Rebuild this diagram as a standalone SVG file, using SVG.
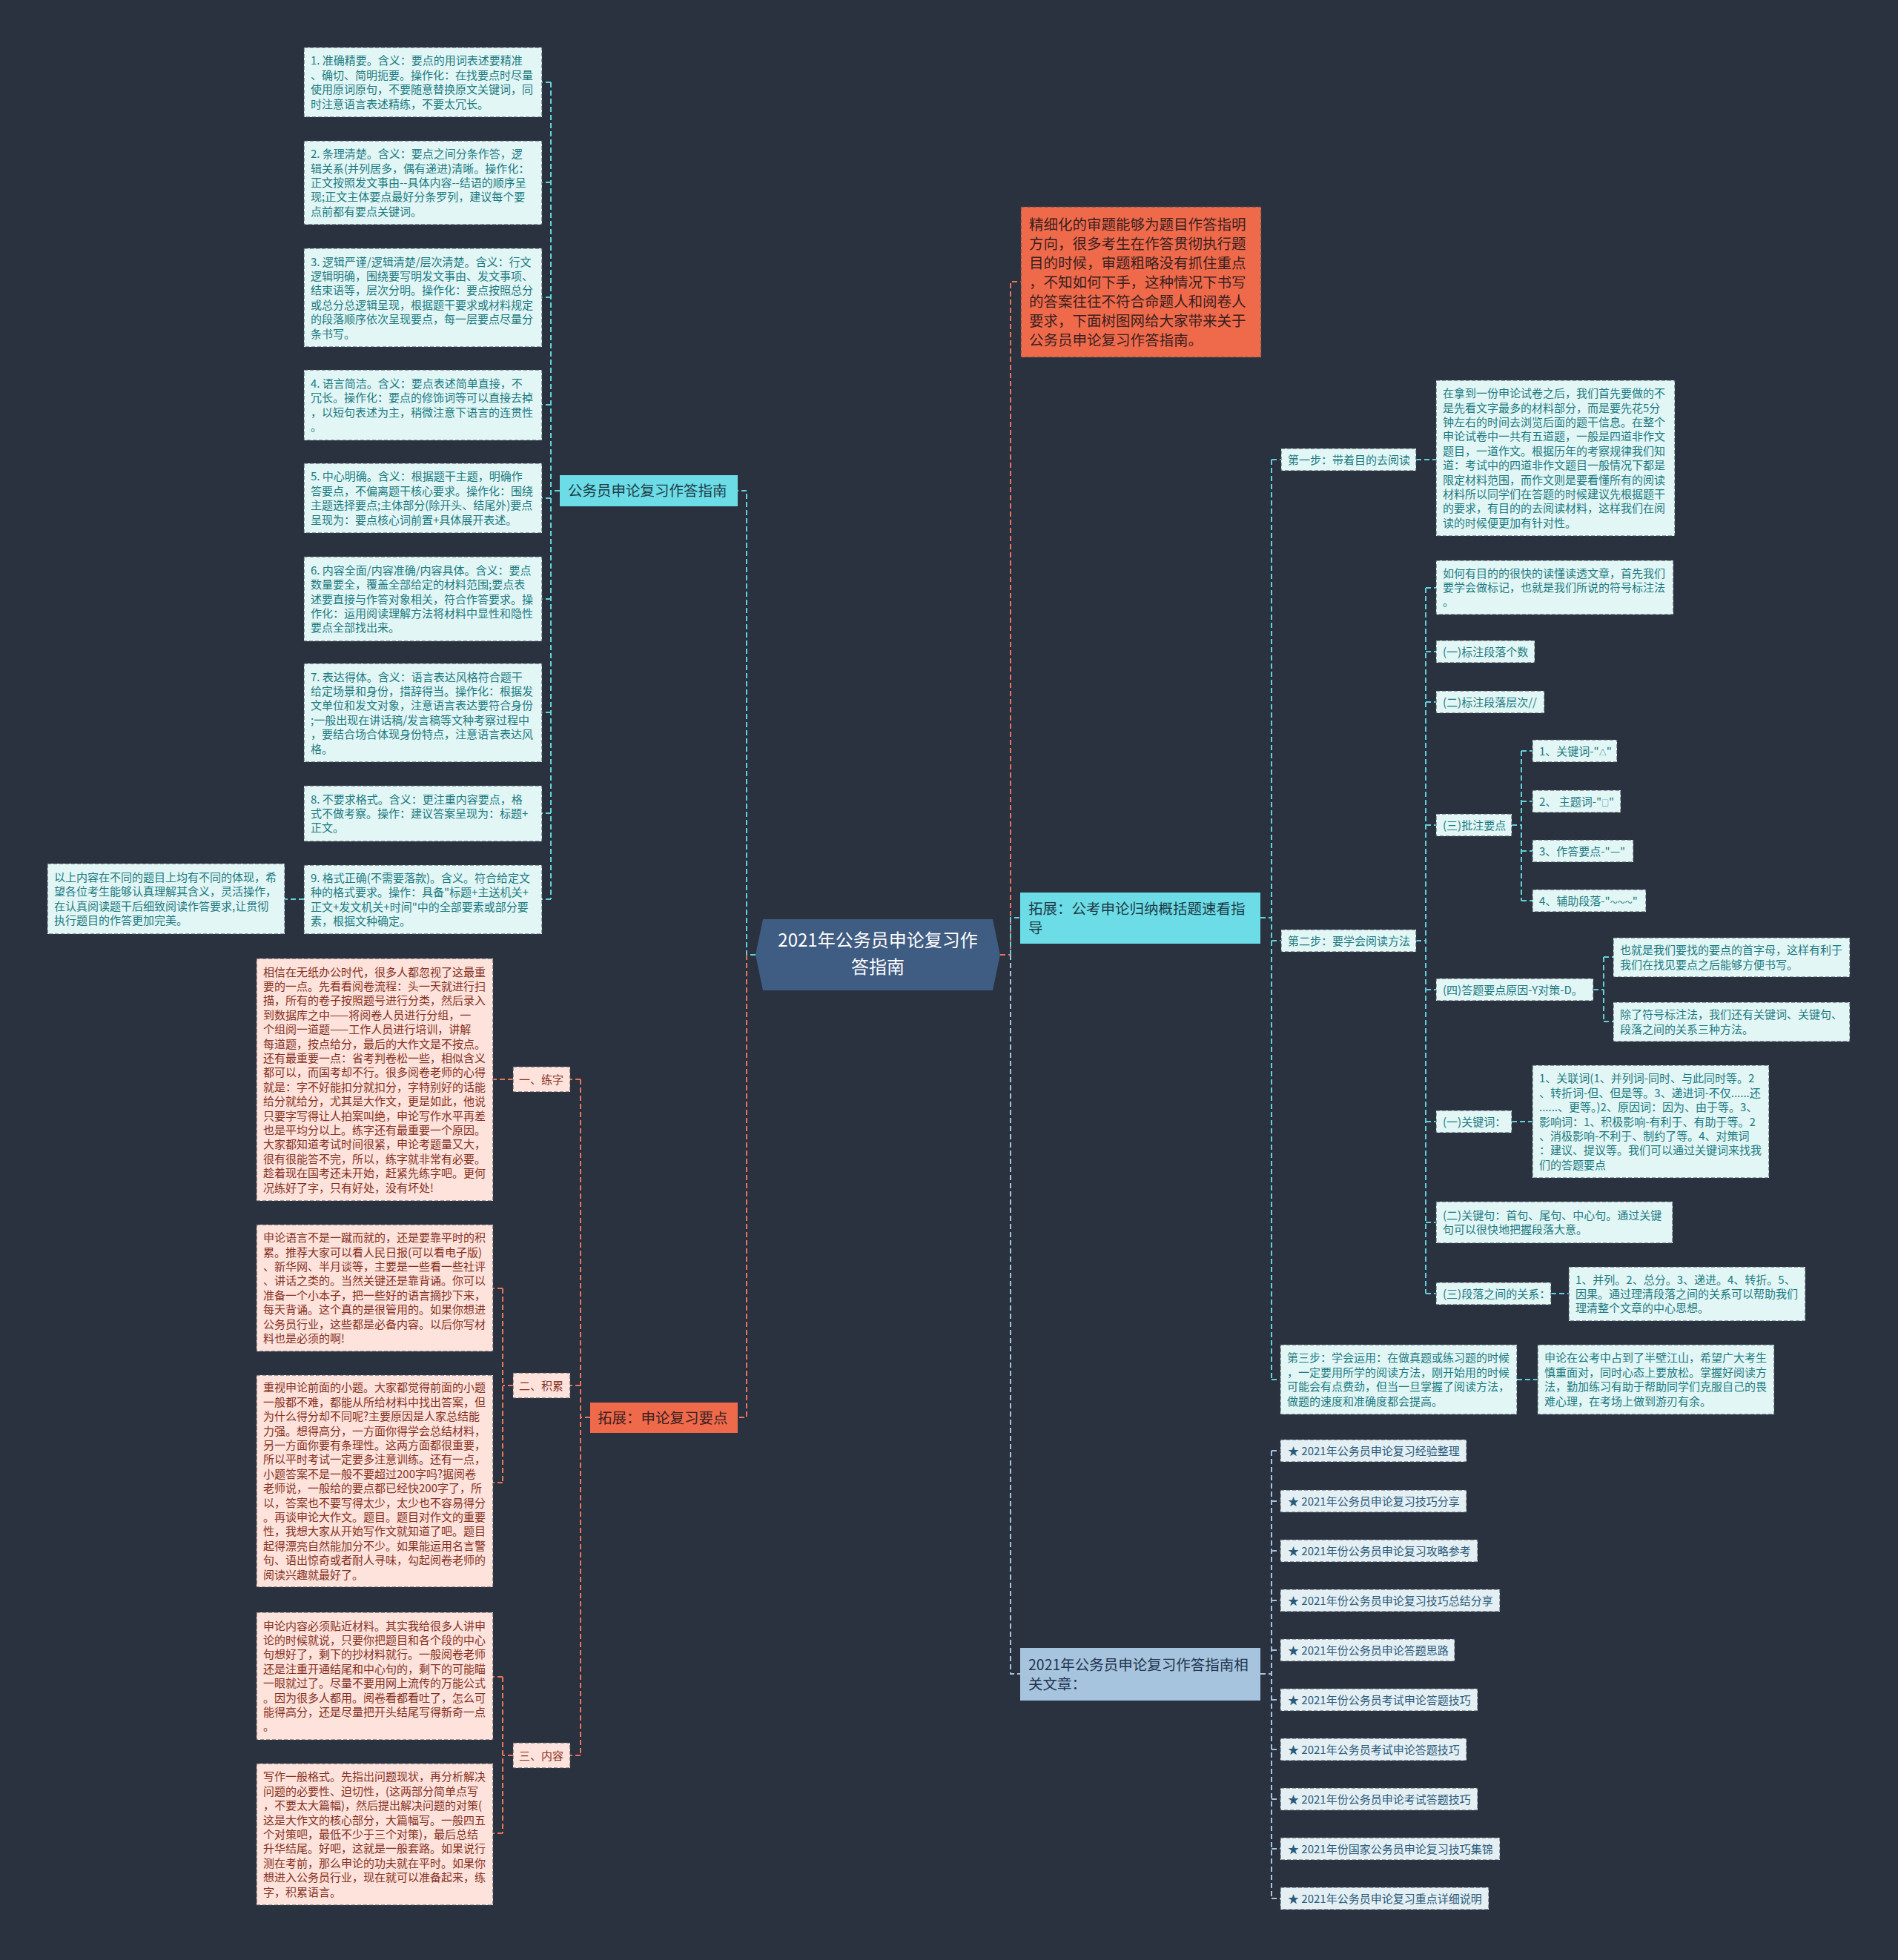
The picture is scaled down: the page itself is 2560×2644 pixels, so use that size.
<svg xmlns="http://www.w3.org/2000/svg" width="2560" height="2644" viewBox="0 0 2560 2644">
<style>
text{font-family:"Noto Sans CJK SC","Noto Sans",sans-serif;font-size:15px}
.cy{fill:#e2f6f6;stroke:#3d4750;stroke-width:1;stroke-dasharray:5 3}
.pk{fill:#fde3db;stroke:#3d4750;stroke-width:1;stroke-dasharray:5 3}
.sb{fill:#e4eff4;stroke:#3d4750;stroke-width:1;stroke-dasharray:5 3}
.tc{fill:#1c7a80}
.tp{fill:#86301f}
.ts{fill:#2a5a78;font-size:15px}
.sm{font-size:10px}
.big{font-size:19.5px}
.c{fill:none;stroke-width:2;stroke-dasharray:7 4}
.teal{stroke:#62d2da}
.coral{stroke:#e8745a}
.blue{stroke:#a7c4de}
</style>
<rect width="2560" height="2644" fill="#2a313f"/>

<g id="connectors">
<path class="c teal" d="M755,662 H743 M743,111 V1213 M743,111 H731 M743,246 H731 M743,401 H731 M743,546 H731 M743,672 H731 M743,808 H731 M743,961 H731 M743,1097 H731 M743,1213 H731 M410,1213 H384"/>
<path class="c teal" d="M1019,1288 H1007 V662 H995"/>
<path class="c coral" d="M1007,1288 V1912 H995"/>
<path class="c coral" d="M796,1912 H783 M783,1456 V2368 M783,1456 H769 M783,1869 H769 M783,2368 H769 M692,1456 H665 M692,1869 H678 M678,1738 V2000 M678,1738 H665 M678,2000 H665 M692,2368 H678 M678,2262 V2473 M678,2262 H665 M678,2473 H665"/>
<path class="c coral" d="M1349,1288 H1363 V380 H1377"/>
<path class="c teal" d="M1363,1288 V1238 H1376"/>
<path class="c blue" d="M1363,1288 V2258 H1376"/>
<path class="c teal" d="M1700,1238 H1715 M1715,620 V1861 M1715,620 H1728 M1715,1269 H1728 M1715,1861 H1727 M1910,620 H1937 M1910,1269 H1923 M1923,793 V1745 M1923,793 H1937 M1923,879 H1937 M1923,947 H1937 M1923,1113 H1937 M1923,1335 H1937 M1923,1513 H1937 M1923,1649 H1937 M1923,1745 H1937 M2039,1113 H2052 M2052,1013 V1215 M2052,1013 H2067 M2052,1081 H2067 M2052,1148 H2067 M2052,1215 H2067 M2149,1335 H2163 M2163,1291 V1378 M2163,1291 H2176 M2163,1378 H2176 M2039,1513 H2067 M2092,1745 H2116 M2046,1861 H2074"/>
<path class="c blue" d="M1700,2258 H1715 M1715,1957 V2561 M1715,1957 H1727 M1715,2025 H1727 M1715,2092 H1727 M1715,2159 H1727 M1715,2226 H1727 M1715,2293 H1727 M1715,2360 H1727 M1715,2427 H1727 M1715,2494 H1727 M1715,2561 H1727"/>
</g>

<g id="center">
<polygon points="1019,1288 1029,1240 1339,1240 1349,1288 1339,1336 1029,1336" fill="#3f5c82"/>
<text x="1184" y="1277" text-anchor="middle" fill="#ffffff" style="font-size:24px">2021年公务员申论复习作</text>
<text x="1184" y="1313" text-anchor="middle" fill="#ffffff" style="font-size:24px">答指南</text>
</g>

<g id="hub-guide">
<rect x="755" y="641" width="240" height="42" fill="#6cdde6"/>
<text x="766" y="669" class="big" fill="#1e3b48">公务员申论复习作答指南</text>
</g>

<g id="n1"><rect class="cy" x="410" y="64" width="321" height="94"/>
<text class="tc" x="419" y="87.4"><tspan x="419">1. 准确精要。含义：要点的用词表述要精准</tspan><tspan x="419" dy="19.4">、确切、简明扼要。操作化：在找要点时尽量</tspan><tspan x="419" dy="19.4">使用原词原句，不要随意替换原文关键词，同</tspan><tspan x="419" dy="19.4">时注意语言表述精练，不要太冗长。</tspan></text></g>

<g id="n2"><rect class="cy" x="410" y="190" width="321" height="113"/>
<text class="tc" x="419" y="213.2"><tspan x="419">2. 条理清楚。含义：要点之间分条作答，逻</tspan><tspan x="419" dy="19.4">辑关系(并列居多，偶有递进)清晰。操作化：</tspan><tspan x="419" dy="19.4">正文按照发文事由--具体内容--结语的顺序呈</tspan><tspan x="419" dy="19.4">现;正文主体要点最好分条罗列，建议每个要</tspan><tspan x="419" dy="19.4">点前都有要点关键词。</tspan></text></g>

<g id="n3"><rect class="cy" x="410" y="335" width="321" height="133"/>
<text class="tc" x="419" y="358.5"><tspan x="419">3. 逻辑严谨/逻辑清楚/层次清楚。含义：行文</tspan><tspan x="419" dy="19.4">逻辑明确，围绕要写明发文事由、发文事项、</tspan><tspan x="419" dy="19.4">结束语等，层次分明。操作化：要点按照总分</tspan><tspan x="419" dy="19.4">或总分总逻辑呈现，根据题干要求或材料规定</tspan><tspan x="419" dy="19.4">的段落顺序依次呈现要点，每一层要点尽量分</tspan><tspan x="419" dy="19.4">条书写。</tspan></text></g>

<g id="n4"><rect class="cy" x="410" y="499" width="321" height="95"/>
<text class="tc" x="419" y="522.9"><tspan x="419">4. 语言简洁。含义：要点表述简单直接，不</tspan><tspan x="419" dy="19.4">冗长。操作化：要点的修饰词等可以直接去掉</tspan><tspan x="419" dy="19.4">，以短句表述为主，稍微注意下语言的连贯性</tspan><tspan x="419" dy="19.4">。</tspan></text></g>

<g id="n5"><rect class="cy" x="410" y="625" width="321" height="94"/>
<text class="tc" x="419" y="648.4"><tspan x="419">5. 中心明确。含义：根据题干主题，明确作</tspan><tspan x="419" dy="19.4">答要点，不偏离题干核心要求。操作化：围绕</tspan><tspan x="419" dy="19.4">主题选择要点;主体部分(除开头、结尾外)要点</tspan><tspan x="419" dy="19.4">呈现为：要点核心词前置+具体展开表述。</tspan></text></g>

<g id="n6"><rect class="cy" x="410" y="751" width="321" height="114"/>
<text class="tc" x="419" y="774.7"><tspan x="419">6. 内容全面/内容准确/内容具体。含义：要点</tspan><tspan x="419" dy="19.4">数量要全，覆盖全部给定的材料范围;要点表</tspan><tspan x="419" dy="19.4">述要直接与作答对象相关，符合作答要求。操</tspan><tspan x="419" dy="19.4">作化：运用阅读理解方法将材料中显性和隐性</tspan><tspan x="419" dy="19.4">要点全部找出来。</tspan></text></g>

<g id="n7"><rect class="cy" x="410" y="895" width="321" height="133"/>
<text class="tc" x="419" y="918.5"><tspan x="419">7. 表达得体。含义：语言表达风格符合题干</tspan><tspan x="419" dy="19.4">给定场景和身份，措辞得当。操作化：根据发</tspan><tspan x="419" dy="19.4">文单位和发文对象，注意语言表达要符合身份</tspan><tspan x="419" dy="19.4">;一般出现在讲话稿/发言稿等文种考察过程中</tspan><tspan x="419" dy="19.4">，要结合场合体现身份特点，注意语言表达风</tspan><tspan x="419" dy="19.4">格。</tspan></text></g>

<g id="n8"><rect class="cy" x="410" y="1060" width="321" height="75"/>
<text class="tc" x="419" y="1083.6"><tspan x="419">8. 不要求格式。含义：更注重内容要点，格</tspan><tspan x="419" dy="19.4">式不做考察。操作：建议答案呈现为：标题+</tspan><tspan x="419" dy="19.4">正文。</tspan></text></g>

<g id="n9"><rect class="cy" x="410" y="1167" width="321" height="93"/>
<text class="tc" x="419" y="1189.9"><tspan x="419">9. 格式正确(不需要落款)。含义。符合给定文</tspan><tspan x="419" dy="19.4">种的格式要求。操作：具备"标题+主送机关+</tspan><tspan x="419" dy="19.4">正文+发文机关+时间"中的全部要素或部分要</tspan><tspan x="419" dy="19.4">素，根据文种确定。</tspan></text></g>

<g id="n9-note"><rect class="cy" x="64" y="1165" width="320" height="95"/>
<text class="tc" x="73" y="1188.9"><tspan x="73">以上内容在不同的题目上均有不同的体现，希</tspan><tspan x="73" dy="19.4">望各位考生能够认真理解其含义，灵活操作，</tspan><tspan x="73" dy="19.4">在认真阅读题干后细致阅读作答要求,让贯彻</tspan><tspan x="73" dy="19.4">执行题目的作答更加完美。</tspan></text></g>

<g id="hub-review">
<rect x="796" y="1892" width="199" height="41" fill="#ef6a4b"/>
<text x="806" y="1919.5" class="big" fill="#3a2020">拓展：申论复习要点</text>
</g>

<g id="lbl-lianzi"><rect class="pk" x="692" y="1439" width="77" height="34"/><text class="tp" x="700" y="1461.5">一、练字</text></g>
<g id="lbl-jilei"><rect class="pk" x="692" y="1852" width="77" height="34"/><text class="tp" x="700" y="1874.5">二、积累</text></g>
<g id="lbl-neirong"><rect class="pk" x="692" y="2351" width="77" height="34"/><text class="tp" x="700" y="2373.5">三、内容</text></g>

<g id="p1"><rect class="pk" x="346" y="1293" width="319" height="327"/>
<text class="tp" x="355" y="1316.5"><tspan x="355">相信在无纸办公时代，很多人都忽视了这最重</tspan><tspan x="355" dy="19.4">要的一点。先看看阅卷流程：头一天就进行扫</tspan><tspan x="355" dy="19.4">描，所有的卷子按照题号进行分类，然后录入</tspan><tspan x="355" dy="19.4">到数据库之中——将阅卷人员进行分组，一</tspan><tspan x="355" dy="19.4">个组阅一道题——工作人员进行培训，讲解</tspan><tspan x="355" dy="19.4">每道题，按点给分，最后的大作文是不按点。</tspan><tspan x="355" dy="19.4">还有最重要一点：省考判卷松一些，相似含义</tspan><tspan x="355" dy="19.4">都可以，而国考却不行。很多阅卷老师的心得</tspan><tspan x="355" dy="19.4">就是：字不好能扣分就扣分，字特别好的话能</tspan><tspan x="355" dy="19.4">给分就给分，尤其是大作文，更是如此，他说</tspan><tspan x="355" dy="19.4">只要字写得让人拍案叫绝，申论写作水平再差</tspan><tspan x="355" dy="19.4">也是平均分以上。练字还有最重要一个原因。</tspan><tspan x="355" dy="19.4">大家都知道考试时间很紧，申论考题量又大，</tspan><tspan x="355" dy="19.4">很有很能答不完，所以，练字就非常有必要。</tspan><tspan x="355" dy="19.4">趁着现在国考还未开始，赶紧先练字吧。更何</tspan><tspan x="355" dy="19.4">况练好了字，只有好处，没有坏处!</tspan></text></g>

<g id="p2"><rect class="pk" x="346" y="1652" width="319" height="171"/>
<text class="tp" x="355" y="1675.1"><tspan x="355">申论语言不是一蹴而就的，还是要靠平时的积</tspan><tspan x="355" dy="19.4">累。推荐大家可以看人民日报(可以看电子版)</tspan><tspan x="355" dy="19.4">、新华网、半月谈等，主要是一些看一些社评</tspan><tspan x="355" dy="19.4">、讲话之类的。当然关键还是靠背诵。你可以</tspan><tspan x="355" dy="19.4">准备一个小本子，把一些好的语言摘抄下来，</tspan><tspan x="355" dy="19.4">每天背诵。这个真的是很管用的。如果你想进</tspan><tspan x="355" dy="19.4">公务员行业，这些都是必备内容。以后你写材</tspan><tspan x="355" dy="19.4">料也是必须的啊!</tspan></text></g>

<g id="p3"><rect class="pk" x="346" y="1855" width="319" height="286"/>
<text class="tp" x="355" y="1877.4"><tspan x="355">重视申论前面的小题。大家都觉得前面的小题</tspan><tspan x="355" dy="19.4">一般都不难，都能从所给材料中找出答案，但</tspan><tspan x="355" dy="19.4">为什么得分却不同呢?主要原因是人家总结能</tspan><tspan x="355" dy="19.4">力强。想得高分，一方面你得学会总结材料，</tspan><tspan x="355" dy="19.4">另一方面你要有条理性。这两方面都很重要，</tspan><tspan x="355" dy="19.4">所以平时考试一定要多注意训练。还有一点，</tspan><tspan x="355" dy="19.4">小题答案不是一般不要超过200字吗?据阅卷</tspan><tspan x="355" dy="19.4">老师说，一般给的要点都已经快200字了，所</tspan><tspan x="355" dy="19.4">以，答案也不要写得太少，太少也不容易得分</tspan><tspan x="355" dy="19.4">。再谈申论大作文。题目。题目对作文的重要</tspan><tspan x="355" dy="19.4">性，我想大家从开始写作文就知道了吧。题目</tspan><tspan x="355" dy="19.4">起得漂亮自然能加分不少。如果能运用名言警</tspan><tspan x="355" dy="19.4">句、语出惊奇或者耐人寻味，勾起阅卷老师的</tspan><tspan x="355" dy="19.4">阅读兴趣就最好了。</tspan></text></g>

<g id="p4"><rect class="pk" x="346" y="2175" width="319" height="172"/>
<text class="tp" x="355" y="2198.6"><tspan x="355">申论内容必须贴近材料。其实我给很多人讲申</tspan><tspan x="355" dy="19.4">论的时候就说，只要你把题目和各个段的中心</tspan><tspan x="355" dy="19.4">句想好了，剩下的抄材料就行。一般阅卷老师</tspan><tspan x="355" dy="19.4">还是注重开通结尾和中心句的，剩下的可能瞄</tspan><tspan x="355" dy="19.4">一眼就过了。尽量不要用网上流传的万能公式</tspan><tspan x="355" dy="19.4">。因为很多人都用。阅卷看都看吐了，怎么可</tspan><tspan x="355" dy="19.4">能得高分，还是尽量把开头结尾写得新奇一点</tspan><tspan x="355" dy="19.4">。</tspan></text></g>

<g id="p5"><rect class="pk" x="346" y="2379" width="319" height="191"/>
<text class="tp" x="355" y="2402.4"><tspan x="355">写作一般格式。先指出问题现状，再分析解决</tspan><tspan x="355" dy="19.4">问题的必要性、迫切性，(这两部分简单点写</tspan><tspan x="355" dy="19.4">，不要太大篇幅)，然后提出解决问题的对策(</tspan><tspan x="355" dy="19.4">这是大作文的核心部分，大篇幅写。一般四五</tspan><tspan x="355" dy="19.4">个对策吧，最低不少于三个对策)，最后总结</tspan><tspan x="355" dy="19.4">升华结尾。好吧，这就是一般套路。如果说行</tspan><tspan x="355" dy="19.4">测在考前，那么申论的功夫就在平时。如果你</tspan><tspan x="355" dy="19.4">想进入公务员行业，现在就可以准备起来，练</tspan><tspan x="355" dy="19.4">字，积累语言。</tspan></text></g>

<g id="intro">
<rect x="1377" y="279" width="324" height="203" fill="#ef6a4b" stroke="#3d4750" stroke-width="1" stroke-dasharray="5 3"/>
<text class="big" x="1388" y="309.5" fill="#3a2020"><tspan x="1388">精细化的审题能够为题目作答指明</tspan><tspan x="1388" dy="26">方向，很多考生在作答贯彻执行题</tspan><tspan x="1388" dy="26">目的时候，审题粗略没有抓住重点</tspan><tspan x="1388" dy="26">，不知如何下手，这种情况下书写</tspan><tspan x="1388" dy="26">的答案往往不符合命题人和阅卷人</tspan><tspan x="1388" dy="26">要求，下面树图网给大家带来关于</tspan><tspan x="1388" dy="26">公务员申论复习作答指南。</tspan></text>
</g>

<g id="hub-expand">
<rect x="1376" y="1204" width="324" height="69" fill="#6cdde6"/>
<text class="big" x="1387" y="1232.5" fill="#1e3b48"><tspan x="1387">拓展：公考申论归纳概括题速看指</tspan><tspan x="1387" dy="26">导</tspan></text>
</g>

<g id="hub-related">
<rect x="1376" y="2223" width="324" height="71" fill="#a7c4de"/>
<text class="big" x="1387" y="2252.5" fill="#21334d"><tspan x="1387">2021年公务员申论复习作答指南相</tspan><tspan x="1387" dy="26">关文章：</tspan></text>
</g>

<g id="step1"><rect class="cy" x="1728" y="605" width="182" height="30"/><text class="tc" x="1737" y="625.5">第一步：带着目的去阅读</text></g>
<g id="step1-text"><rect class="cy" x="1937" y="513" width="322" height="210"/>
<text class="tc" x="1946" y="536.2"><tspan x="1946">在拿到一份申论试卷之后，我们首先要做的不</tspan><tspan x="1946" dy="19.4">是先看文字最多的材料部分，而是要先花5分</tspan><tspan x="1946" dy="19.4">钟左右的时间去浏览后面的题干信息。在整个</tspan><tspan x="1946" dy="19.4">申论试卷中一共有五道题，一般是四道非作文</tspan><tspan x="1946" dy="19.4">题目，一道作文。根据历年的考察规律我们知</tspan><tspan x="1946" dy="19.4">道：考试中的四道非作文题目一般情况下都是</tspan><tspan x="1946" dy="19.4">限定材料范围，而作文则是要看懂所有的阅读</tspan><tspan x="1946" dy="19.4">材料所以同学们在答题的时候建议先根据题干</tspan><tspan x="1946" dy="19.4">的要求，有目的的去阅读材料，这样我们在阅</tspan><tspan x="1946" dy="19.4">读的时候便更加有针对性。</tspan></text></g>

<g id="step2"><rect class="cy" x="1728" y="1254" width="182" height="30"/><text class="tc" x="1737" y="1274.5">第二步：要学会阅读方法</text></g>

<g id="s2-intro"><rect class="cy" x="1937" y="756" width="320" height="73"/>
<text class="tc" x="1946" y="778.6"><tspan x="1946">如何有目的的很快的读懂读透文章，首先我们</tspan><tspan x="1946" dy="19.4">要学会做标记，也就是我们所说的符号标注法</tspan><tspan x="1946" dy="19.4">。</tspan></text></g>
<g id="s2-a"><rect class="cy" x="1937" y="864" width="133" height="30"/><text class="tc" x="1946" y="884.5">(一)标注段落个数</text></g>
<g id="s2-b"><rect class="cy" x="1937" y="932" width="146" height="30"/><text class="tc" x="1946" y="952.5">(二)标注段落层次//</text></g>
<g id="s2-c"><rect class="cy" x="1937" y="1098" width="102" height="30"/><text class="tc" x="1946" y="1118.5">(三)批注要点</text></g>
<g id="s2-c1"><rect class="cy" x="2067" y="998" width="114" height="30"/><text class="tc" x="2076" y="1018.5">1、关键词-"<tspan class="sm">△</tspan>"</text></g>
<g id="s2-c2"><rect class="cy" x="2067" y="1066" width="119" height="30"/><text class="tc" x="2076" y="1086.5">2、 主题词-"<tspan class="sm">□</tspan>"</text></g>
<g id="s2-c3"><rect class="cy" x="2067" y="1133" width="136" height="30"/><text class="tc" x="2076" y="1153.5">3、作答要点-"—"</text></g>
<g id="s2-c4"><rect class="cy" x="2067" y="1200" width="153" height="30"/><text class="tc" x="2076" y="1220.5">4、辅助段落-"<tspan class="sm">～～～</tspan>"</text></g>
<g id="s2-d"><rect class="cy" x="1937" y="1320" width="212" height="30"/><text class="tc" x="1946" y="1340.5">(四)答题要点原因-Y对策-D。</text></g>
<g id="s2-d1"><rect class="cy" x="2176" y="1265" width="319" height="53"/>
<text class="tc" x="2185" y="1287.3"><tspan x="2185">也就是我们要找的要点的首字母，这样有利于</tspan><tspan x="2185" dy="19.4">我们在找见要点之后能够方便书写。</tspan></text></g>
<g id="s2-d2"><rect class="cy" x="2176" y="1352" width="319" height="53"/>
<text class="tc" x="2185" y="1374.3"><tspan x="2185">除了符号标注法，我们还有关键词、关键句、</tspan><tspan x="2185" dy="19.4">段落之间的关系三种方法。</tspan></text></g>
<g id="s2-e"><rect class="cy" x="1937" y="1498" width="102" height="30"/><text class="tc" x="1946" y="1518.5">(一)关键词：</text></g>
<g id="s2-e1"><rect class="cy" x="2067" y="1437" width="319" height="152"/>
<text class="tc" x="2076" y="1460.3"><tspan x="2076">1、关联词(1、并列词-同时、与此同时等。2</tspan><tspan x="2076" dy="19.4">、转折词-但、但是等。3、递进词-不仅......还</tspan><tspan x="2076" dy="19.4">......、更等。)2、原因词：因为、由于等。3、</tspan><tspan x="2076" dy="19.4">影响词：1、积极影响-有利于、有助于等。2</tspan><tspan x="2076" dy="19.4">、消极影响-不利于、制约了等。4、对策词</tspan><tspan x="2076" dy="19.4">：建议、提议等。我们可以通过关键词来找我</tspan><tspan x="2076" dy="19.4">们的答题要点</tspan></text></g>
<g id="s2-f"><rect class="cy" x="1937" y="1621" width="319" height="56"/>
<text class="tc" x="1946" y="1644.8"><tspan x="1946">(二)关键句：首句、尾句、中心句。通过关键</tspan><tspan x="1946" dy="19.4">句可以很快地把握段落大意。</tspan></text></g>
<g id="s2-g"><rect class="cy" x="1937" y="1730" width="155" height="30"/><text class="tc" x="1946" y="1750.5">(三)段落之间的关系：</text></g>
<g id="s2-g1"><rect class="cy" x="2116" y="1709" width="319" height="73"/>
<text class="tc" x="2125" y="1731.6"><tspan x="2125">1、并列。2、总分。3、递进。4、转折。5、</tspan><tspan x="2125" dy="19.4">因果。通过理清段落之间的关系可以帮助我们</tspan><tspan x="2125" dy="19.4">理清整个文章的中心思想。</tspan></text></g>

<g id="step3"><rect class="cy" x="1727" y="1814" width="319" height="94"/>
<text class="tc" x="1736" y="1837.4"><tspan x="1736">第三步：学会运用：在做真题或练习题的时候</tspan><tspan x="1736" dy="19.4">，一定要用所学的阅读方法，刚开始用的时候</tspan><tspan x="1736" dy="19.4">可能会有点费劲，但当一旦掌握了阅读方法，</tspan><tspan x="1736" dy="19.4">做题的速度和准确度都会提高。</tspan></text></g>
<g id="step3-text"><rect class="cy" x="2074" y="1814" width="319" height="94"/>
<text class="tc" x="2083" y="1837.4"><tspan x="2083">申论在公考中占到了半壁江山，希望广大考生</tspan><tspan x="2083" dy="19.4">慎重面对，同时心态上要放松。掌握好阅读方</tspan><tspan x="2083" dy="19.4">法，勤加练习有助于帮助同学们克服自己的畏</tspan><tspan x="2083" dy="19.4">难心理，在考场上做到游刃有余。</tspan></text></g>

<g id="rel1"><rect class="sb" x="1727" y="1942" width="251" height="30"/><text class="ts" x="1737" y="1962.5">★ 2021年公务员申论复习经验整理</text></g>
<g id="rel2"><rect class="sb" x="1727" y="2010" width="251" height="30"/><text class="ts" x="1737" y="2030.5">★ 2021年公务员申论复习技巧分享</text></g>
<g id="rel3"><rect class="sb" x="1727" y="2077" width="266" height="30"/><text class="ts" x="1737" y="2097.5">★ 2021年份公务员申论复习攻略参考</text></g>
<g id="rel4"><rect class="sb" x="1727" y="2144" width="296" height="30"/><text class="ts" x="1737" y="2164.5">★ 2021年份公务员申论复习技巧总结分享</text></g>
<g id="rel5"><rect class="sb" x="1727" y="2211" width="235" height="30"/><text class="ts" x="1737" y="2231.5">★ 2021年份公务员申论答题思路</text></g>
<g id="rel6"><rect class="sb" x="1727" y="2278" width="266" height="30"/><text class="ts" x="1737" y="2298.5">★ 2021年份公务员考试申论答题技巧</text></g>
<g id="rel7"><rect class="sb" x="1727" y="2345" width="251" height="30"/><text class="ts" x="1737" y="2365.5">★ 2021年公务员考试申论答题技巧</text></g>
<g id="rel8"><rect class="sb" x="1727" y="2412" width="266" height="30"/><text class="ts" x="1737" y="2432.5">★ 2021年份公务员申论考试答题技巧</text></g>
<g id="rel9"><rect class="sb" x="1727" y="2479" width="296" height="30"/><text class="ts" x="1737" y="2499.5">★ 2021年份国家公务员申论复习技巧集锦</text></g>
<g id="rel10"><rect class="sb" x="1727" y="2546" width="281" height="30"/><text class="ts" x="1737" y="2566.5">★ 2021年公务员申论复习重点详细说明</text></g>
</svg>
